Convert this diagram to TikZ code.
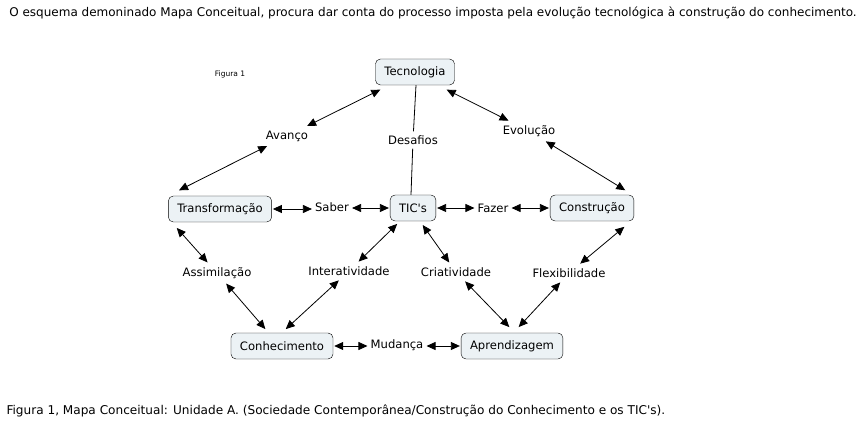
\documentclass[tikz,border=0pt]{standalone}
\usepackage{fontspec}
\setmainfont{DejaVu Sans}
\usetikzlibrary{arrows.meta,calc}
\definecolor{conceptfill}{RGB}{236,242,245}

\begin{document}
\begin{tikzpicture}[x=1pt,y=-1pt,
    concept/.style={draw=black,fill=conceptfill,rounded corners=5pt,
      minimum height=26pt,inner xsep=9pt,font=\fontsize{11.6}{13}\selectfont},
    phrase/.style={inner xsep=2pt,inner ysep=4pt,font=\fontsize{11.6}{13}\selectfont},
    link/.style={{Triangle[length=9pt,width=8pt]}-{Triangle[length=9pt,width=8pt]},
      line width=0.8pt,shorten <=1pt,shorten >=1pt}]
    \fill[white] (0,0) rectangle (863,425);
    \useasboundingbox (0,0) rectangle (863,425);
    % texts round the map
    \node[font=\fontsize{12}{14}\selectfont] (intro) at (433,13)
      {O esquema demoninado Mapa Conceitual, procura dar conta do processo imposta pela evolução tecnológica à construção do conhecimento.};
    \node[font=\fontsize{7.5}{8}\selectfont] (fig) at (230,74) {Figura 1};
    \node[font=\fontsize{12.1}{14}\selectfont,anchor=west] (caption) at (3,411)
      {Figura 1, Mapa Conceitual: Unidade A. (Sociedade Contemporânea/Construção do Conhecimento e os TIC\textquotesingle s).};
    % concepts
    \node[concept] (tec) at (415,72) {Tecnologia};
    \node[concept] (trans) at (220,209) {Transformação};
    \node[concept] (tics) at (413,208) {TIC\textquotesingle s};
    \node[concept] (cons) at (592,208) {Construção};
    \node[concept] (conh) at (282,346) {Conhecimento};
    \node[concept] (apr) at (512,346) {Aprendizagem};
    % linking phrases
    \node[phrase] (avanco) at (287,136) {Avanço};
    \node[phrase] (desafios) at (413,140) {Desafios};
    \node[phrase] (evolucao) at (529,131) {Evolução};
    \node[phrase] (saber) at (332,207) {Saber};
    \node[phrase] (fazer) at (493,208) {Fazer};
    \node[phrase] (assim) at (217,273) {Assimilação};
    \node[phrase] (inter) at (349,271) {Interatividade};
    \node[phrase] (criat) at (456,272) {Criatividade};
    \node[phrase] (flex) at (569,273) {Flexibilidade};
    \node[phrase] (mudanca) at (397,345) {Mudança};
    % links
    \draw[line width=0.8pt] ($(tec.south)+(1,0)$) -- (desafios) -- ($(tics.north)+(-2,0)$);
    \draw[link] (avanco) -- ($(tec.south west)+(6,4)$);
    \draw[link] (avanco) -- ($(trans.north west)+(10,-5)$);
    \draw[link] (evolucao) -- ($(tec.south east)+(-9,4)$);
    \draw[link] (evolucao) -- ($(cons.north east)+(-8,-4)$);
    \draw[link] (trans.east) -- (saber.west |- trans.east);
    \draw[link] (saber.east |- tics.west) -- (tics.west);
    \draw[link] (tics.east) -- (fazer.west |- tics.east);
    \draw[link] (fazer.east |- cons.west) -- (cons.west);
    \draw[link] (assim) -- ($(trans.south west)+(8,5)$);
    \draw[link] (assim) -- ($(conh.north)+(-16,-3)$);
    \draw[link] (inter) -- ($(conh.north)+(3,-3)$);
    \draw[link] (inter) -- ($(tics.south west)+(8,2)$);
    \draw[link] (criat) -- ($(tics.south east)+(-14,3)$);
    \draw[link] (criat) -- ($(apr.north)+(-2,-5)$);
    \draw[link] (flex) -- ($(apr.north)+(6,-5)$);
    \draw[link] (flex) -- ($(cons.south east)+(-9,5)$);
    \draw[link] (conh.east) -- (mudanca.west |- conh.east);
    \draw[link] (mudanca.east |- apr.west) -- (apr.west);
\end{tikzpicture}
\end{document}
